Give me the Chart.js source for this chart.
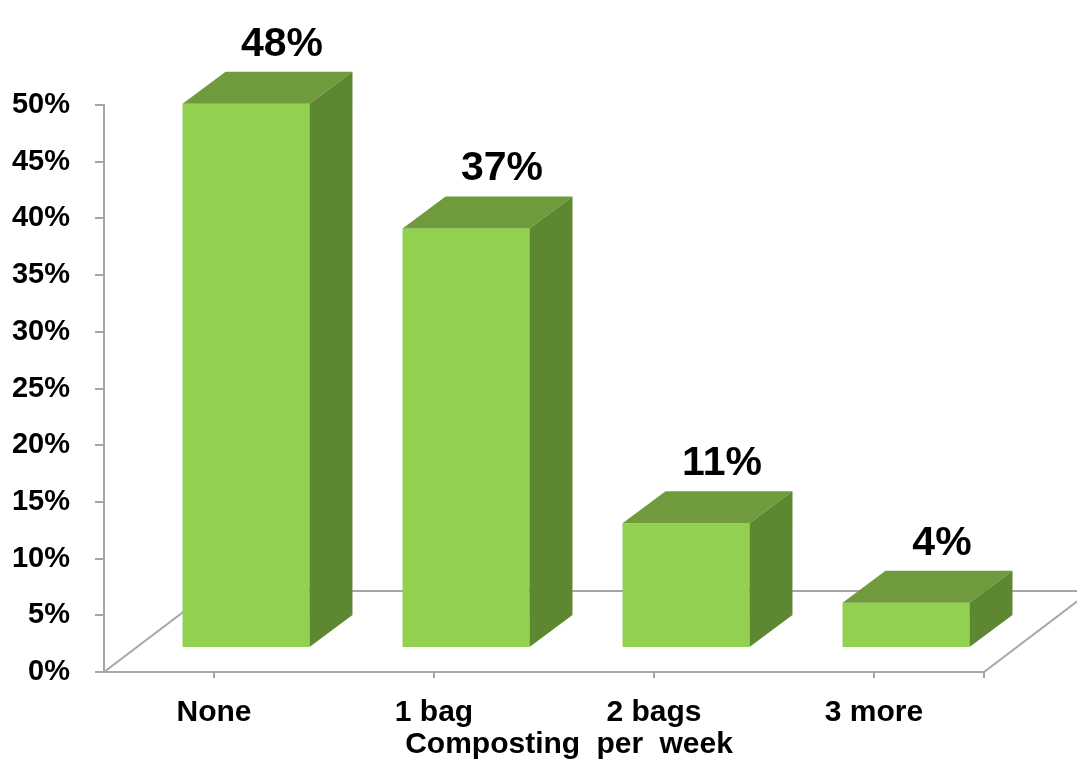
<!DOCTYPE html>
<html>
<head>
<meta charset="utf-8">
<title>Composting per week</title>
<script src="https://cdn.jsdelivr.net/npm/chart.js@4.4.1/dist/chart.umd.min.js"></script>
<style>
  html, body { margin: 0; padding: 0; background: #ffffff; }
  #wrap { width: 1077px; height: 767px; }
</style>
</head>
<body>
<div id="wrap"><canvas id="compostChart" width="1077" height="767"></canvas></div>
<script>
var categories = ['None', '1 bag', '2 bags', '3 more'];
var percents = [48, 37, 11, 4];
var yTickValues = [0, 5, 10, 15, 20, 25, 30, 35, 40, 45, 50];
var xTitle = 'Composting per week';

var FONT = '"Liberation Sans", Arial, Helvetica, sans-serif';
var frontColor = '#92d050';
var topColor = '#6f9b3c';
var sideColor = '#5e8731';
var lineColor = '#a6a6a6';

// fake 3D: front face sits inside the floor, bars have some depth
var shift = { x: 32, y: 24 };
var depth = { x: 43, y: 32 };
var floorDepth = { x: 107, y: 81 };

var pseudo3d = {
  id: 'pseudo3d',
  beforeDatasetsDraw: function (chart) {
    var ctx = chart.ctx;
    var xs = chart.scales.x;
    var yb = chart.scales.y.getPixelForValue(0);

    // floor outline
    ctx.save();
    ctx.strokeStyle = lineColor;
    ctx.lineWidth = 2;
    ctx.beginPath();
    ctx.moveTo(xs.left, yb);
    ctx.lineTo(xs.left + floorDepth.x, yb - floorDepth.y);
    ctx.lineTo(xs.right + floorDepth.x, yb - floorDepth.y);
    ctx.lineTo(xs.right, yb);
    ctx.stroke();
    ctx.beginPath();
    ctx.moveTo(xs.right, yb);
    ctx.lineTo(xs.right, yb + 6);
    ctx.stroke();
    ctx.restore();

    // move the bars back into the floor
    ctx.save();
    ctx.translate(shift.x, -shift.y);
  },
  afterDatasetsDraw: function (chart) {
    var ctx = chart.ctx;
    var meta = chart.getDatasetMeta(0);

    meta.data.forEach(function (bar) {
      var p = bar.getProps(['x', 'y', 'base', 'width'], true);
      var l = p.x - p.width / 2;
      var r = p.x + p.width / 2;

      // top face
      ctx.fillStyle = topColor;
      ctx.beginPath();
      ctx.moveTo(l, p.y);
      ctx.lineTo(l + depth.x, p.y - depth.y);
      ctx.lineTo(r + depth.x, p.y - depth.y);
      ctx.lineTo(r, p.y);
      ctx.closePath();
      ctx.fill();

      // side face
      ctx.fillStyle = sideColor;
      ctx.beginPath();
      ctx.moveTo(r, p.y);
      ctx.lineTo(r + depth.x, p.y - depth.y);
      ctx.lineTo(r + depth.x, p.base - depth.y);
      ctx.lineTo(r, p.base);
      ctx.closePath();
      ctx.fill();
    });
    ctx.restore();

    // value labels
    ctx.save();
    ctx.fillStyle = '#000000';
    ctx.font = 'bold 41px ' + FONT;
    ctx.textAlign = 'center';
    ctx.textBaseline = 'alphabetic';
    meta.data.forEach(function (bar, i) {
      var p = bar.getProps(['x', 'y'], true);
      ctx.fillText(percents[i] + '%', p.x + shift.x + 36, p.y - shift.y - depth.y - 16);
    });

    // axis title
    ctx.font = 'bold 30px ' + FONT;
    ctx.textBaseline = 'middle';
    if ('wordSpacing' in ctx) ctx.wordSpacing = '8px';
    var xs = chart.scales.x;
    ctx.fillText(xTitle, (xs.left + xs.right) / 2 + 25, 745);
    ctx.restore();
  }
};

var ctx = document.getElementById('compostChart').getContext('2d');

var chart = new Chart(ctx, {
  type: 'bar',
  data: {
    labels: categories,
    datasets: [{
      data: percents,
      backgroundColor: frontColor,
      borderWidth: 0,
      categoryPercentage: 1,
      barPercentage: 0.577,
      clip: false
    }]
  },
  options: {
    responsive: false,
    animation: false,
    events: [],
    layout: {
      padding: { top: 105, right: 93, left: 0, bottom: 0 }
    },
    plugins: {
      legend: { display: false },
      tooltip: { enabled: false },
      title: { display: false }
    },
    scales: {
      x: {
        offset: true,
        afterFit: function (scale) { scale.height = 95; },
        grid: {
          display: true,
          drawOnChartArea: false,
          drawTicks: true,
          tickLength: 6,
          offset: false,
          color: lineColor,
          lineWidth: 2
        },
        border: { display: true, color: lineColor, width: 2 },
        ticks: {
          color: '#000000',
          font: { family: FONT, size: 30, weight: 'bold' },
          padding: 17,
          maxRotation: 0
        }
      },
      y: {
        min: 0,
        max: 50,
        afterFit: function (scale) { scale.width = 104; },
        afterBuildTicks: function (scale) {
          scale.ticks = yTickValues.map(function (v) { return { value: v }; });
        },
        grid: {
          display: true,
          drawOnChartArea: false,
          drawTicks: true,
          tickLength: 9,
          color: lineColor,
          lineWidth: 2
        },
        border: { display: true, color: lineColor, width: 2 },
        ticks: {
          color: '#000000',
          font: { family: FONT, size: 29, weight: 'bold' },
          padding: 25,
          callback: function (value) { return value + '%'; }
        }
      }
    }
  },
  plugins: [pseudo3d]
});
</script>
</body>
</html>
